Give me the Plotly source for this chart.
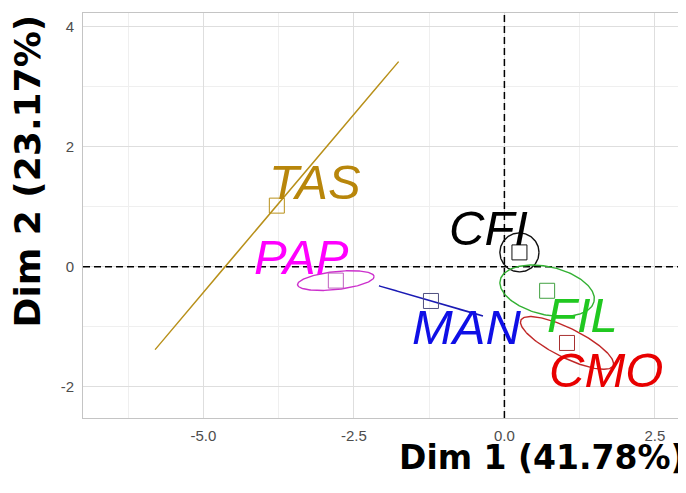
import numpy as np
import plotly.graph_objects as go

# ---- data ----
groups = ["TAS", "PAP", "MAN", "CFI", "FIL", "CMO"]
center_x = [-3.78, -2.80, -1.22, 0.25, 0.71, 1.04]
center_y = [1.02, -0.23, -0.57, 0.24, -0.40, -1.27]
ell_a = [3.14, 0.64, 0.90, 0.325, 0.80, 0.855]
ell_b = [0.004, 0.15, 0.004, 0.325, 0.40, 0.245]
ell_angle = [49.9, 6.3, -16.2, 0.0, -13.0, -26.5]
label_x = [-3.15, -3.37, -0.62, -0.27, 1.30, 1.69]
label_y = [1.42, 0.17, -1.01, 0.64, -0.81, -1.72]
text_colors = ["#B8860B", "#FF00FF", "#0F0FE6", "#000000", "#20C820", "#E80000"]
line_colors = ["#B8901A", "#CC30CC", "#1A1AB4", "#111111", "#33B033", "#C02828"]
square_colors = ["#B8901A", "#C060C0", "#505080", "#111111", "#40A040", "#A83030"]

x_ticks = [-5.0, -2.5, 0.0, 2.5]
y_ticks = [-2, 0, 2, 4]
x_range = [-7.0, 3.0]
y_range = [-2.522, 4.233]
x_title = "Dim 1 (41.78%)"
y_title = "Dim 2 (23.17%)"

fig = go.Figure()

# dashed reference lines at 0 (drawn first, under the ellipses)
dash_line = dict(color="black", width=1.5, dash="7px,4px")
fig.add_trace(go.Scatter(x=[0, 0], y=y_range, mode="lines", line=dash_line,
                         hoverinfo="skip", showlegend=False))
fig.add_trace(go.Scatter(x=x_range, y=[0, 0], mode="lines", line=dash_line,
                         hoverinfo="skip", showlegend=False))

t = np.linspace(0, 2 * np.pi, 200)
for g, cx, cy, a, b, ang, lc in zip(groups, center_x, center_y, ell_a, ell_b, ell_angle, line_colors):
    th = np.deg2rad(ang)
    ex = cx + a * np.cos(th) * np.cos(t) - b * np.sin(th) * np.sin(t)
    ey = cy + a * np.sin(th) * np.cos(t) + b * np.cos(th) * np.sin(t)
    fig.add_trace(go.Scatter(x=ex, y=ey, mode="lines", line=dict(color=lc, width=1.4),
                             hoverinfo="skip", showlegend=False))

fig.add_trace(go.Scatter(x=center_x, y=center_y, mode="markers", showlegend=False,
                         marker=dict(symbol="square-open", size=15, color=square_colors,
                                     line=dict(width=1))))

for g, lx, ly, tc in zip(groups, label_x, label_y, text_colors):
    fig.add_annotation(x=lx, y=ly, xref="x", yref="y", text=g,
                       showarrow=False, xanchor="center", yanchor="middle",
                       font=dict(family="Liberation Sans, Arial", size=49, color=tc,
                                 style="italic"))

# axis titles (plot area spans page pixels x 83..685, y 13..418)
fig.add_annotation(xref="paper", yref="paper", x=1.0, y=(418 - 457) / 405,
                   xanchor="right", yanchor="middle", showarrow=False, text=x_title,
                   xshift=3,
                   font=dict(family="DejaVu Sans", size=33, color="black", weight="bold"))
fig.add_annotation(xref="paper", yref="paper", x=(27 - 83) / 602, y=1.0,
                   xanchor="center", yanchor="top", showarrow=False, textangle=-90,
                   text=y_title,
                   font=dict(family="DejaVu Sans", size=36, color="black", weight="bold"))

tickfont = dict(family="Liberation Sans, Arial", size=15, color="#4D4D4D")
fig.update_xaxes(range=x_range, tickvals=x_ticks, ticktext=[f"{v:.1f}" for v in x_ticks],
                 showgrid=True, gridcolor="#DEDEDE", gridwidth=1, zeroline=False,
                 showline=True, mirror=True, linecolor="#C4C4C4", linewidth=1,
                 ticks="", tickfont=tickfont, ticklabelstandoff=4, automargin=False,
                 minor=dict(tickvals=[-6.25, -3.75, -1.25, 1.25], showgrid=True,
                            gridcolor="#EFEFEF", gridwidth=0.6))
fig.update_yaxes(range=y_range, tickvals=y_ticks, ticktext=[str(v) for v in y_ticks],
                 showgrid=True, gridcolor="#DEDEDE", gridwidth=1, zeroline=False,
                 showline=True, mirror=True, linecolor="#C4C4C4", linewidth=1,
                 ticks="", tickfont=tickfont, ticklabelstandoff=5, automargin=False,
                 minor=dict(tickvals=[-1, 1, 3], showgrid=True,
                            gridcolor="#EFEFEF", gridwidth=0.6))

# the page body has an 8px margin, so the figure is drawn 8px smaller and offset
fig.update_layout(width=678, height=485, margin=dict(l=75, r=1, t=5, b=75, pad=0),
                  paper_bgcolor="white", plot_bgcolor="white", showlegend=False)

fig.write_html("out.html")
